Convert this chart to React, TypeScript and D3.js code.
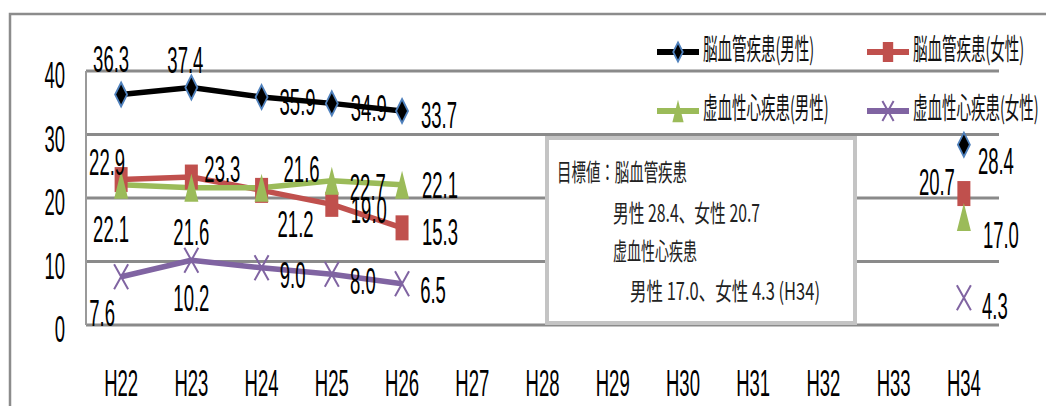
import React from 'react';
import * as d3 from 'd3';

const categories = ['H22', 'H23', 'H24', 'H25', 'H26', 'H27', 'H28', 'H29', 'H30', 'H31', 'H32', 'H33', 'H34'];
const maleCerebro = [36.3, 37.4, 35.9, 34.9, 33.7, null, null, null, null, null, null, null, 28.4];
const femaleCerebro = [22.9, 23.3, 21.2, 19.0, 15.3, null, null, null, null, null, null, null, 20.7];
const maleIschemic = [22.1, 21.6, 21.6, 22.7, 22.1, null, null, null, null, null, null, null, 17.0];
const femaleIschemic = [7.6, 10.2, 9.0, 8.0, 6.5, null, null, null, null, null, null, null, 4.3];
const yTicks = [0, 10, 20, 30, 40];
const seriesNames = ['脳血管疾患(男性)', '脳血管疾患(女性)', '虚血性心疾患(男性)', '虚血性心疾患(女性)'];
const targetLines = ['目標値：脳血管疾患', '男性 28.4、女性 20.7', '虚血性心疾患', '男性 17.0、女性 4.3 (H34)'];

// label center offsets (layout only)
const labelOffsets: [number, number][][] = [
  [[-10, -36], [-6, -28], [36, 5], [37, 4], [37, 4], [0, 0], [0, 0], [0, 0], [0, 0], [0, 0], [0, 0], [0, 0], [32, 16]],
  [[-14, -18], [31, -8], [34, 33], [37, 5], [38, 4], [0, 0], [0, 0], [0, 0], [0, 0], [0, 0], [0, 0], [0, 0], [-27, -12]],
  [[-10, 44], [0, 44], [40, -19], [36, 6], [38, 0], [0, 0], [0, 0], [0, 0], [0, 0], [0, 0], [0, 0], [0, 0], [37, 18]],
  [[-19, 36], [0, 37], [31, 7], [31, 6], [31, 6], [0, 0], [0, 0], [0, 0], [0, 0], [0, 0], [0, 0], [0, 0], [31, 8]],
];

const seriesData = [maleCerebro, femaleCerebro, maleIschemic, femaleIschemic];
const colors = ['#000000', '#c0504d', '#9bbb59', '#8064a2'];
const markerKinds = ['diamond', 'square', 'triangle', 'x'];

const W = 1046, H = 406;
const plotL = 86, plotR = 999, plotT = 71, plotB = 325;
const NUM_FONT = "'Liberation Sans', Arial, sans-serif";
const CJK_FONT = "'Noto Sans CJK JP', 'Noto Sans CJK SC', sans-serif";
const NS = 37, NSX = 0.5;

function Marker({ kind, x, y, scale = 1 }: { kind: string; x: number; y: number; scale?: number }) {
  const s = scale;
  if (kind === 'diamond') {
    const w = 6 * s, h = 12 * s;
    return <path d={`M${x},${y - h}L${x + w},${y}L${x},${y + h}L${x - w},${y}Z`} fill="#000" stroke="#4f81bd" strokeWidth={1.8} />;
  }
  if (kind === 'square') {
    const w = 6.5 * s, h = 12.5 * s;
    return <rect x={x - w} y={y - h} width={2 * w} height={2 * h} fill="#c0504d" />;
  }
  if (kind === 'triangle') {
    const w = 7 * s, h = 14 * s;
    return <path d={`M${x},${y - h}L${x + w},${y + h}L${x - w},${y + h}Z`} fill="#9bbb59" />;
  }
  const w = 7 * s, h = 12.5 * s;
  return <path d={`M${x - w},${y - h}L${x + w},${y + h}M${x + w},${y - h}L${x - w},${y + h}`} stroke="#8064a2" strokeWidth={2} fill="none" />;
}

function NText({ x, cy, text, anchor = 'middle' }: { x: number; cy: number; text: string; anchor?: string }) {
  return (
    <text transform={`translate(${x},${cy + 13.3}) scale(${NSX},1)`} textAnchor={anchor} fontSize={NS} fontFamily={NUM_FONT} fill="#000">
      {text}
    </text>
  );
}

export default function App() {
  const x = d3.scalePoint<string>().domain(categories).range([plotL, plotR]).padding(0.5);
  const y = d3.scaleLinear().domain([0, 40]).range([plotB, plotT]);

  const line = d3
    .line<number | null>()
    .defined((d) => d != null)
    .x((_, i) => x(categories[i]) as number)
    .y((d) => y(d as number));

  const legendItems = [
    { lx: 657, cy: 49 },
    { lx: 867, cy: 49 },
    { lx: 657, cy: 108 },
    { lx: 867, cy: 108 },
  ];

  const boxLines = [
    { x: 557, cy: 172, len: 130 },
    { x: 613, cy: 213, len: 147 },
    { x: 613, cy: 251, len: 84 },
    { x: 630, cy: 291, len: 190 },
  ];

  return (
    <svg width={W} height={H} style={{ position: 'absolute', left: 0, top: 0 }}>
      <rect x={0} y={0} width={W} height={H} fill="#fff" />
      {/* outer chart border */}
      <rect x={10} y={14} width={W + 10} height={H + 10} fill="none" stroke="#8c8c8c" strokeWidth={2.5} />
      {/* gridlines */}
      {yTicks.map((t) => (
        <line key={t} x1={plotL} x2={plotR} y1={y(t)} y2={y(t)} stroke="#8a8a8a" strokeWidth={3} />
      ))}
      <line x1={plotL} x2={plotL} y1={plotT} y2={plotB} stroke="#9a9a9a" strokeWidth={2} />
      {/* y labels */}
      {yTicks.map((t) => (
        <NText key={t} x={65} cy={y(t) + 4} text={String(t)} anchor="end" />
      ))}
      {/* x labels */}
      {categories.map((c) => (
        <NText key={c} x={x(c) as number} cy={383} text={c} />
      ))}
      {/* lines */}
      {seriesData.map((s, i) => (
        <path key={i} d={line(s) || ''} fill="none" stroke={colors[i]} strokeWidth={5.5} strokeLinejoin="round" />
      ))}
      {/* markers */}
      {seriesData.map((s, i) =>
        s.map((v, j) => (v == null ? null : <Marker key={`${i}-${j}`} kind={markerKinds[i]} x={x(categories[j]) as number} y={y(v)} />))
      )}
      {/* data labels */}
      {seriesData.map((s, i) =>
        s.map((v, j) =>
          v == null ? null : (
            <NText
              key={`l${i}-${j}`}
              x={(x(categories[j]) as number) + labelOffsets[i][j][0]}
              cy={y(v) + labelOffsets[i][j][1]}
              text={v.toFixed(1)}
            />
          )
        )
      )}
      {/* legend */}
      {legendItems.map((it, i) => (
        <g key={i}>
          <line x1={it.lx} x2={it.lx + 42} y1={it.cy + 3} y2={it.cy + 3} stroke={colors[i]} strokeWidth={6} />
          <Marker kind={markerKinds[i]} x={it.lx + 21} y={it.cy + 3} scale={0.8} />
          <text
            transform={`translate(${it.lx + 46},${it.cy + 11}) scale(0.5,1)`}
            fontSize={29}
            fontFamily={CJK_FONT}
            fill="#111"
          >
            {seriesNames[i]}
          </text>
        </g>
      ))}
      {/* target box */}
      <rect x={547} y={138} width={308} height={185} fill="#fff" stroke="#c4c4c4" strokeWidth={4} />
      {boxLines.map((b, i) => (
        <text
          key={i}
          x={b.x}
          y={b.cy + 9}
          fontSize={24}
          fontFamily={CJK_FONT}
          fill="#222"
          textLength={b.len}
          lengthAdjust="spacingAndGlyphs"
        >
          {targetLines[i]}
        </text>
      ))}
    </svg>
  );
}
